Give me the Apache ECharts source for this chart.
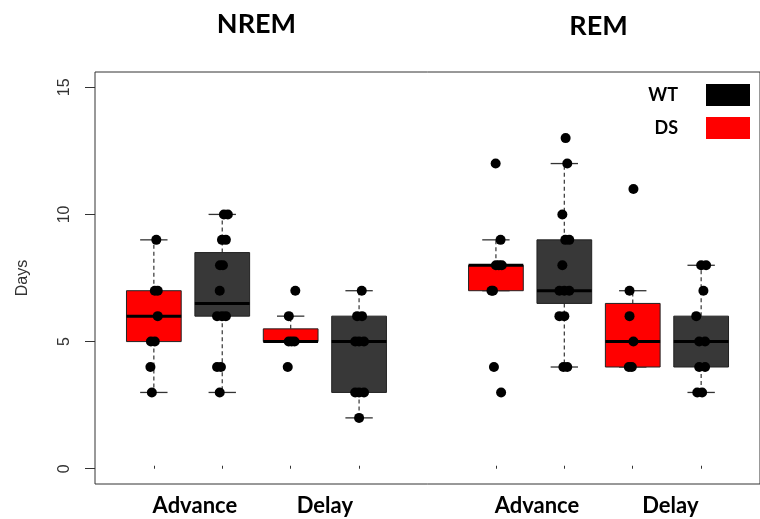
<!DOCTYPE html>
<html><head><meta charset="utf-8">
<script src="https://cdn.jsdelivr.net/npm/echarts@6/dist/echarts.min.js"></script>
<style>html,body{margin:0;padding:0;background:#fff}#c{width:760px;height:519px}</style>
</head><body><div id="c"></div>
<script>
// ---- data ----
const panels = ['NREM', 'REM'];
const conditions = ['Advance', 'Delay', 'Advance', 'Delay'];
// where the hand-placed condition labels sit on the x scale
const conditionAt = [1.6, 3.5, 6.6, 8.55];
const genotypes = ['WT', 'DS'];
const yTicks = [0, 5, 10, 15];
// slot index of each box on the x scale (slot 5 is the gap between panels)
const boxPos = [1, 2, 3, 4, 6, 7, 8, 9];
const boxGeno = ['DS', 'WT', 'DS', 'WT', 'DS', 'WT', 'DS', 'WT'];
// [lower whisker, Q1, median, Q3, upper whisker]
const boxStats = [
  [3, 5, 6, 7, 9],
  [3, 6, 6.5, 8.5, 10],
  [5, 5, 5, 5.5, 6],
  [2, 3, 5, 6, 7],
  [7, 7, 8, 8, 9],
  [4, 6.5, 7, 9, 12],
  [4, 4, 5, 6.5, 7],
  [3, 4, 5, 6, 8]
];
// individual animals (days), per box
const points = [
  [9, 7, 7, 6, 5, 5, 4, 3],
  [10, 10, 9, 9, 8, 8, 7, 6, 6, 6, 4, 4, 3],
  [7, 6, 5, 5, 5, 4],
  [7, 6, 6, 5, 5, 5, 3, 3, 3, 2],
  [12, 9, 8, 8, 8, 7, 7, 4, 3],
  [13, 12, 10, 9, 9, 8, 7, 7, 7, 6, 6, 4, 4],
  [11, 7, 6, 5, 4, 4],
  [8, 8, 7, 6, 5, 5, 4, 4, 3, 3]
];
// horizontal jitter of each point (x units)
const jitter = [
  [0.036, 0.014, 0.057, 0.057, -0.043, 0.014, -0.05, -0.029],
  [0.024, 0.082, -0.004, 0.053, -0.033, 0.01, -0.037, -0.076, -0.004, 0.053, -0.076, -0.019, -0.037],
  [0.068, -0.027, -0.029, 0.014, 0.057, -0.043],
  [0.039, -0.029, 0.043, -0.057, 0, 0.072, -0.057, 0, 0.072, 0],
  [-0.004, 0.068, 0, 0.043, 0.086, -0.065, -0.043, -0.029, 0.076],
  [0.019, 0.043, -0.029, 0.014, 0.072, -0.029, -0.072, 0, 0.072, -0.072, 0, -0.014, 0.043],
  [0.01, -0.047, -0.047, 0.01, -0.057, -0.014],
  [0, 0.072, 0.033, -0.072, -0.029, 0.057, -0.029, 0.057, -0.057, 0.014]
];

// ---- build ----
const genoColor = { WT: '#383838', DS: '#ff0000' };
const legendColor = { WT: '#000000', DS: '#ff0000' };
const labelMap = {};
conditionAt.forEach((p, i) => { labelMap[p] = conditions[i]; });
const panelCenters = [(boxPos[0] + boxPos[3]) / 2, (boxPos[4] + boxPos[7]) / 2];

function renderBox(params, api) {
  const x = api.value(0);
  const c = k => api.coord([x, api.value(k)]);
  const pLow = c(1), pQ1 = c(2), pMed = c(3), pQ3 = c(4), pHigh = c(5);
  const w = api.size([0.8, 0])[0];
  const cx = pQ1[0];
  const wh = { stroke: '#444', lineWidth: 1.3, lineDash: [4, 3], fill: null };
  const cap = { stroke: '#333', lineWidth: 1.3, fill: null };
  return {
    type: 'group', children: [
      { type: 'line', shape: { x1: cx, y1: pQ3[1], x2: cx, y2: pHigh[1] }, style: wh },
      { type: 'line', shape: { x1: cx, y1: pQ1[1], x2: cx, y2: pLow[1] }, style: wh },
      { type: 'line', shape: { x1: cx - w / 4, y1: pHigh[1], x2: cx + w / 4, y2: pHigh[1] }, style: cap },
      { type: 'line', shape: { x1: cx - w / 4, y1: pLow[1], x2: cx + w / 4, y2: pLow[1] }, style: cap },
      { type: 'rect', shape: { x: cx - w / 2, y: pQ3[1], width: w, height: pQ1[1] - pQ3[1] },
        style: { fill: api.visual('color'), stroke: '#222', lineWidth: 1 } },
      { type: 'line', shape: { x1: cx - w / 2, y1: pMed[1], x2: cx + w / 2, y2: pMed[1] },
        style: { stroke: '#000', lineWidth: 3 } }
    ]
  };
}

const boxSeries = genotypes.map(g => ({
  name: g,
  type: 'custom',
  renderItem: renderBox,
  itemStyle: { color: genoColor[g] },
  encode: { x: 0, y: [1, 2, 3, 4, 5] },
  data: boxPos.map((p, i) => boxGeno[i] === g ? [p].concat(boxStats[i]) : null).filter(d => d),
  z: 2,
  silent: true
}));

const pointData = [];
points.forEach((arr, i) => arr.forEach((v, j) => pointData.push([boxPos[i] + jitter[i][j], v])));

const chart = echarts.init(document.getElementById('c'), null, { renderer: 'canvas' });
const option = {
  animation: false,
  backgroundColor: '#fff',
  grid: { left: 95, top: 72, width: 675, height: 412, show: true, borderColor: '#333', borderWidth: 1, backgroundColor: 'transparent' },
  xAxis: {
    type: 'value', min: 0.14, max: 9.86,
    splitLine: { show: false }, axisLine: { show: false },
    axisTick: { show: true, inside: true, length: 3, customValues: boxPos, lineStyle: { color: '#333' } },
    axisLabel: {
      customValues: conditionAt, formatter: v => labelMap[v] || '', margin: 11,
      fontFamily: 'Lato', fontWeight: 'bold', fontSize: 22, color: '#000'
    }
  },
  yAxis: {
    type: 'value', min: -0.6, max: 15.6,
    splitLine: { show: false }, axisLine: { show: false },
    axisTick: { show: true, length: 10, customValues: yTicks, lineStyle: { color: '#333' } },
    axisLabel: { customValues: yTicks, rotate: 90, margin: 22, fontFamily: 'Liberation Sans', fontSize: 16, color: '#333' },
    name: 'Days', nameLocation: 'middle', nameRotate: 90, nameGap: 64,
    nameTextStyle: { fontFamily: 'Liberation Sans', fontSize: 16, color: '#333' }
  },
  legend: {
    data: genotypes.map(g => ({ name: g, itemStyle: { color: legendColor[g], borderWidth: 0 } })),
    orient: 'vertical', right: 5, top: 79, itemGap: 11, align: 'right',
    icon: 'rect', itemWidth: 44, itemHeight: 22, selectedMode: false,
    textStyle: { fontFamily: 'Lato', fontWeight: 'bold', fontSize: 18, color: '#000', padding: [0, 23, 0, 0] }
  },
  series: boxSeries.concat([{
    name: 'animals', type: 'scatter', symbol: 'circle', symbolSize: 10,
    itemStyle: { color: '#000', opacity: 1 }, data: pointData, z: 3, silent: true
  }])
};
chart.setOption(option);
// panel titles centred over each panel's boxes, via the axis scale
const titles = panels.map((p, i) => {
  const pt = chart.convertToPixel({ gridIndex: 0 }, [panelCenters[i], 15.6]);
  return { type: 'text', x: pt[0], y: i === 0 ? 24 : 26,
    style: { text: p, align: 'center', verticalAlign: 'middle', font: 'bold 27px Lato', fill: '#000' } };
});
chart.setOption({ graphic: titles });
</script></body></html>
